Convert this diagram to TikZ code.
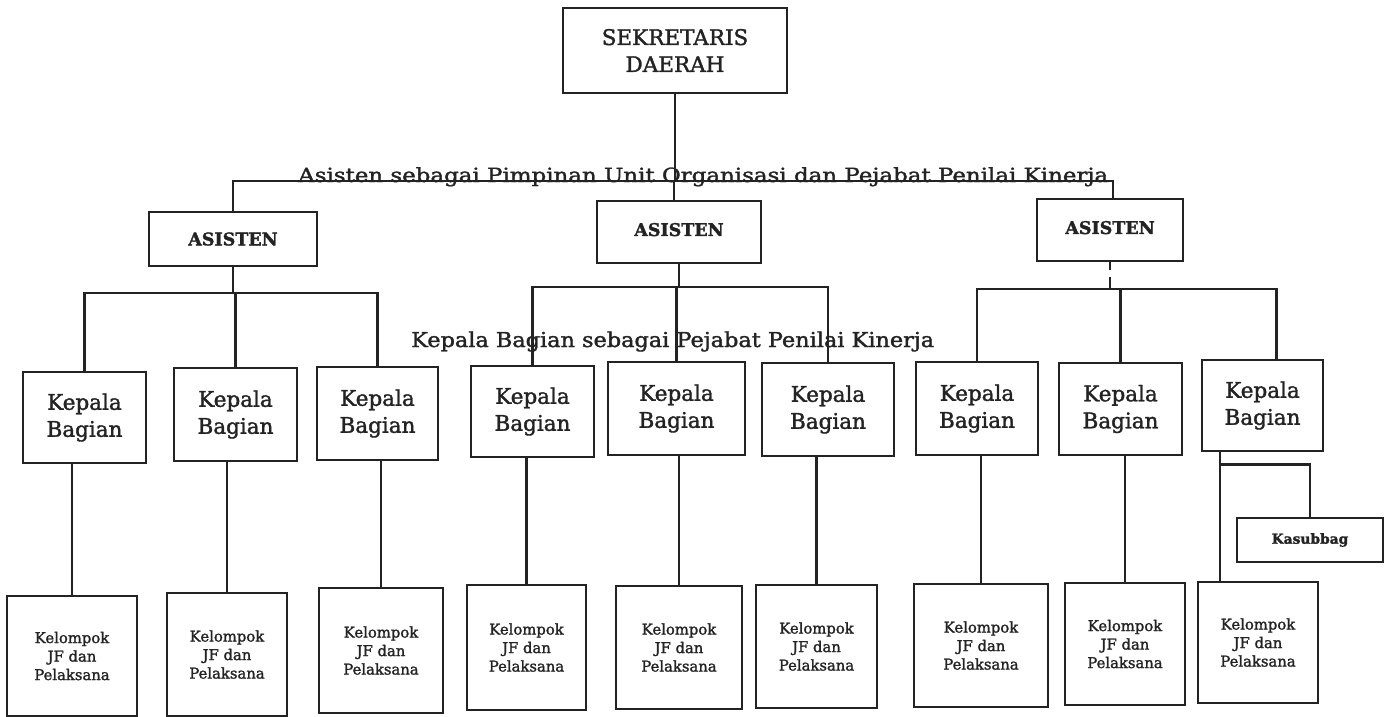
\documentclass[tikz,border=0pt]{standalone}
\usepackage{fontspec}
\setmainfont{DejaVu Serif}[FakeBold=1.6]
\definecolor{ink}{HTML}{232323}

% set a text in a box and stretch it horizontally to a given width (in pt)
\newsavebox\fitbox
\newcommand\fitwidth[2]{%
  \sbox\fitbox{#2}%
  \pgfmathsetmacro\fitratio{#1/\the\wd\fitbox}%
  \scalebox{\fitratio}[1]{\usebox\fitbox}}

\begin{document}
\begin{tikzpicture}[x=1pt,y=-1pt,
  ln/.style={draw=ink, line width=2.5pt},
  box/.style={draw=ink, line width=2.5pt, inner sep=0pt, align=center, text=ink},
  topbox/.style={box, font=\fontsize{21.5}{27}\selectfont},
  asbox/.style={box, font=\bfseries\fontsize{17.5}{22}\selectfont},
  kbbox/.style={box, font=\fontsize{21.5}{27}\selectfont},
  jfbox/.style={box, font=\fontsize{14.8}{18.5}\selectfont},
  subbox/.style={box, font=\bfseries\fontsize{13.8}{18}\selectfont},
  lbl/.style={anchor=base west, inner sep=0pt, text=ink}]

\useasboundingbox (0,0) rectangle (1393,717);

% top level
\node[topbox, minimum width=224pt, minimum height=85pt] (sek) at (675,50.5) {SEKRETARIS\\DAERAH};

% assistants
\node[asbox, minimum width=168pt, minimum height=54pt] (a1) at (233,239) {ASISTEN};
\node[asbox, minimum width=164pt, minimum height=62pt] (a2) at (679,232) {\raisebox{5pt}{ASISTEN}};
\node[asbox, minimum width=146pt, minimum height=62pt] (a3) at (1110,230) {\raisebox{5pt}{ASISTEN}};

% heads of section
\node[kbbox, minimum width=123pt, minimum height=91pt] (k1) at (84.5,417.5) {Kepala\\Bagian};
\node[kbbox, minimum width=123pt, minimum height=93pt] (k2) at (235.5,414.5) {Kepala\\Bagian};
\node[kbbox, minimum width=121pt, minimum height=93pt] (k3) at (377.5,413.5) {Kepala\\Bagian};
\node[kbbox, minimum width=123pt, minimum height=91pt] (k4) at (532.5,411.5) {Kepala\\Bagian};
\node[kbbox, minimum width=137pt, minimum height=93pt] (k5) at (676.5,408.5) {Kepala\\Bagian};
\node[kbbox, minimum width=132pt, minimum height=93pt] (k6) at (828,409.5) {Kepala\\Bagian};
\node[kbbox, minimum width=122pt, minimum height=93pt] (k7) at (977,408.5) {Kepala\\Bagian};
\node[kbbox, minimum width=123pt, minimum height=92pt] (k8) at (1120.5,409) {Kepala\\Bagian};
\node[kbbox, minimum width=121pt, minimum height=91pt] (k9) at (1262.5,405.5) {Kepala\\Bagian};

% sub-section head
\node[subbox, minimum width=146pt, minimum height=44pt] (kas) at (1310,540) {Kasubbag};

% functional groups
\node[jfbox, minimum width=130pt, minimum height=120pt] (j1) at (72,656) {Kelompok\\JF dan\\Pelaksana};
\node[jfbox, minimum width=120pt, minimum height=123pt] (j2) at (227,654.5) {Kelompok\\JF dan\\Pelaksana};
\node[jfbox, minimum width=124pt, minimum height=125pt] (j3) at (381,650.5) {Kelompok\\JF dan\\Pelaksana};
\node[jfbox, minimum width=119pt, minimum height=125pt] (j4) at (526.5,647.5) {Kelompok\\JF dan\\Pelaksana};
\node[jfbox, minimum width=126pt, minimum height=123pt] (j5) at (679,647.5) {Kelompok\\JF dan\\Pelaksana};
\node[jfbox, minimum width=121pt, minimum height=123pt] (j6) at (816.5,646.5) {Kelompok\\JF dan\\Pelaksana};
\node[jfbox, minimum width=134pt, minimum height=123pt] (j7) at (981,645.5) {Kelompok\\JF dan\\Pelaksana};
\node[jfbox, minimum width=120pt, minimum height=122pt] (j8) at (1125,644) {Kelompok\\JF dan\\Pelaksana};
\node[jfbox, minimum width=120pt, minimum height=121pt] (j9) at (1258,642.5) {Kelompok\\JF dan\\Pelaksana};

% bus levels
\coordinate (busTop) at (0,181);
\coordinate (busL) at (0,293);
\coordinate (busM) at (0,287);
\coordinate (busR) at (0,289);

% secretary to assistants
\draw[ln] (sek.south) -- (sek.south |- busTop);
\draw[ln] (a1.north) -- (a1.north |- busTop) -- ([xshift=3pt]a3.north |- busTop) -- ([xshift=3pt]a3.north);
\draw[ln] ([xshift=-5pt]a2.north) -- ([xshift=-5pt]a2.north |- busTop);

% assistants to heads of section
\draw[ln] (a1.south) -- (a1.south |- busL);
\draw[ln] (k1.north) -- (k1.north |- busL) -- (k3.north |- busL) -- (k3.north);
\draw[ln] (k2.north) -- (k2.north |- busL);

\draw[ln] (a2.south) -- (a2.south |- busM);
\draw[ln] (k4.north) -- (k4.north |- busM) -- (k6.north |- busM) -- (k6.north);
\draw[ln] (k5.north) -- (k5.north |- busM);

\draw[ln] (a3.south) -- ++(0,8);
\draw[ln] (a3.south) ++(0,15) -- (a3.south |- busR);
\draw[ln] (k7.north) -- (k7.north |- busR) -- ([xshift=14pt]k9.north |- busR) -- ([xshift=14pt]k9.north);
\draw[ln] (k8.north) -- (k8.north |- busR);

% heads of section to functional groups
\foreach \i in {1,...,8}{
  \draw[ln] (j\i.north) -- (j\i.north |- k\i.south);
}
\coordinate (k9s) at ([xshift=19pt]k9.south west);
\draw[ln] (k9s) -- (k9s |- j9.north);
\draw[ln] (k9s) ++(0,12) -| (kas.north);

% captions
\node[lbl, font=\fontsize{19.5}{24}\selectfont] (capA) at (298,182)
  {\fitwidth{810}{Asisten sebagai Pimpinan Unit Organisasi dan Pejabat Penilai Kinerja}};
\node[lbl, font=\fontsize{20.5}{26}\selectfont] (capK) at (411,347)
  {\fitwidth{523}{Kepala Bagian sebagai Pejabat Penilai Kinerja}};

\end{tikzpicture}
\end{document}
